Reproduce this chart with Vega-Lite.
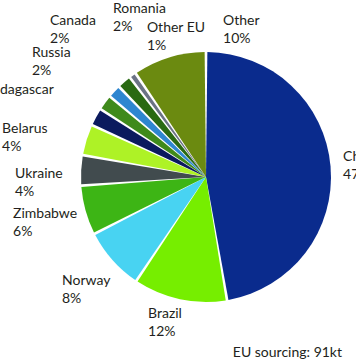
{
  "$schema": "https://vega.github.io/schema/vega-lite/v6.json",
  "autosize": {"type": "none"},
  "padding": {"left": 56, "top": 0, "right": 0, "bottom": 10},
  "width": 300,
  "height": 354,
  "background": "white",
  "view": {"stroke": null},
  "config": {"text": {"font": "Lato", "fontSize": 14, "color": "#231f20"}},
  "title": {"text": "EU sourcing: 91kt", "orient": "bottom", "anchor": "end", "frame": "group", "baseline": "alphabetic", "offset": 3, "dx": -14, "font": "Lato", "fontSize": 14, "fontWeight": "normal", "color": "#231f20"},
  "data": {"values": [
    {"idx": 1, "country": "China", "value": 47.3, "label": "China\n47%"},
    {"idx": 2, "country": "Brazil", "value": 12.1, "label": "Brazil\n12%"},
    {"idx": 3, "country": "Norway", "value": 8.1, "label": "Norway\n8%"},
    {"idx": 4, "country": "Zimbabwe", "value": 6.4, "label": "Zimbabwe\n6%"},
    {"idx": 5, "country": "Ukraine", "value": 3.9, "label": "Ukraine\n4%"},
    {"idx": 6, "country": "Belarus", "value": 4.0, "label": "Belarus\n4%"},
    {"idx": 7, "country": "Madagascar", "value": 2.3, "label": "Madagascar\n2%"},
    {"idx": 8, "country": "Russia", "value": 2.0, "label": "Russia\n2%"},
    {"idx": 9, "country": "Canada", "value": 1.7, "label": "Canada\n2%"},
    {"idx": 10, "country": "Romania", "value": 1.8, "label": "Romania\n2%"},
    {"idx": 11, "country": "Other EU", "value": 0.9, "label": "Other EU\n1%"},
    {"idx": 12, "country": "Other", "value": 9.5, "label": "Other\n10%"}
  ]},
  "encoding": {
    "theta": {"field": "value", "type": "quantitative", "stack": true},
    "order": {"field": "idx", "type": "quantitative"}
  },
  "layer": [
    {
      "mark": {"type": "arc", "radius": 125, "padAngle": 0.022},
      "encoding": {
        "color": {"field": "country", "type": "nominal", "legend": null,
          "scale": {"domain": ["China","Brazil","Norway","Zimbabwe","Ukraine","Belarus","Madagascar","Russia","Canada","Romania","Other EU","Other"],
                    "range": ["#0a2b8d","#76ee00","#48d3f2","#3db515","#414b4e","#aef226","#0b1a5e","#3f8a1b","#2e86d0","#2a6a12","#6b7385","#6b8a10"]}}
      }
    },
    {"mark": {"type": "text", "radius": 125, "align": "left", "baseline": "alphabetic", "lineBreak": "\n", "lineHeight": 18, "dx": 12.5, "dy": -5.3},
     "encoding": {"detail": {"field": "country"}, "text": {"condition": {"test": "datum.country === 'China'", "field": "label", "type": "nominal"}, "value": ""}}},
    {"mark": {"type": "text", "radius": 125, "align": "left", "baseline": "alphabetic", "lineBreak": "\n", "lineHeight": 18, "dx": -31.8, "dy": 18.8},
     "encoding": {"detail": {"field": "country"}, "text": {"condition": {"test": "datum.country === 'Brazil'", "field": "label", "type": "nominal"}, "value": ""}}},
    {"mark": {"type": "text", "radius": 125, "align": "left", "baseline": "alphabetic", "lineBreak": "\n", "lineHeight": 18, "dx": -50.5, "dy": 25},
     "encoding": {"detail": {"field": "country"}, "text": {"condition": {"test": "datum.country === 'Norway'", "field": "label", "type": "nominal"}, "value": ""}}},
    {"mark": {"type": "text", "radius": 125, "align": "left", "baseline": "alphabetic", "lineBreak": "\n", "lineHeight": 18, "dx": -72.5, "dy": 7.6},
     "encoding": {"detail": {"field": "country"}, "text": {"condition": {"test": "datum.country === 'Zimbabwe'", "field": "label", "type": "nominal"}, "value": ""}}},
    {"mark": {"type": "text", "radius": 125, "align": "left", "baseline": "alphabetic", "lineBreak": "\n", "lineHeight": 18, "dx": -66.2, "dy": 7.8},
     "encoding": {"detail": {"field": "country"}, "text": {"condition": {"test": "datum.country === 'Ukraine'", "field": "label", "type": "nominal"}, "value": ""}}},
    {"mark": {"type": "text", "radius": 125, "align": "left", "baseline": "alphabetic", "lineBreak": "\n", "lineHeight": 18, "dx": -84.6, "dy": -6.8},
     "encoding": {"detail": {"field": "country"}, "text": {"condition": {"test": "datum.country === 'Belarus'", "field": "label", "type": "nominal"}, "value": ""}}},
    {"mark": {"type": "text", "radius": 125, "align": "left", "baseline": "alphabetic", "lineBreak": "\n", "lineHeight": 18, "dx": -116, "dy": -23.2},
     "encoding": {"detail": {"field": "country"}, "text": {"condition": {"test": "datum.country === 'Madagascar'", "field": "label", "type": "nominal"}, "value": ""}}},
    {"mark": {"type": "text", "radius": 125, "align": "left", "baseline": "alphabetic", "lineBreak": "\n", "lineHeight": 18, "dx": -73.4, "dy": -45.8},
     "encoding": {"detail": {"field": "country"}, "text": {"condition": {"test": "datum.country === 'Russia'", "field": "label", "type": "nominal"}, "value": ""}}},
    {"mark": {"type": "text", "radius": 125, "align": "left", "baseline": "alphabetic", "lineBreak": "\n", "lineHeight": 18, "dx": -64.6, "dy": -66.7},
     "encoding": {"detail": {"field": "country"}, "text": {"condition": {"test": "datum.country === 'Canada'", "field": "label", "type": "nominal"}, "value": ""}}},
    {"mark": {"type": "text", "radius": 125, "align": "left", "baseline": "alphabetic", "lineBreak": "\n", "lineHeight": 18, "dx": -11.5, "dy": -69.2},
     "encoding": {"detail": {"field": "country"}, "text": {"condition": {"test": "datum.country === 'Romania'", "field": "label", "type": "nominal"}, "value": ""}}},
    {"mark": {"type": "text", "radius": 125, "align": "left", "baseline": "alphabetic", "lineBreak": "\n", "lineHeight": 18, "dx": 14.1, "dy": -43.6},
     "encoding": {"detail": {"field": "country"}, "text": {"condition": {"test": "datum.country === 'Other EU'", "field": "label", "type": "nominal"}, "value": ""}}},
    {"mark": {"type": "text", "radius": 125, "align": "left", "baseline": "alphabetic", "lineBreak": "\n", "lineHeight": 18, "dx": 53.8, "dy": -32.5},
     "encoding": {"detail": {"field": "country"}, "text": {"condition": {"test": "datum.country === 'Other'", "field": "label", "type": "nominal"}, "value": ""}}}
  ]
}
